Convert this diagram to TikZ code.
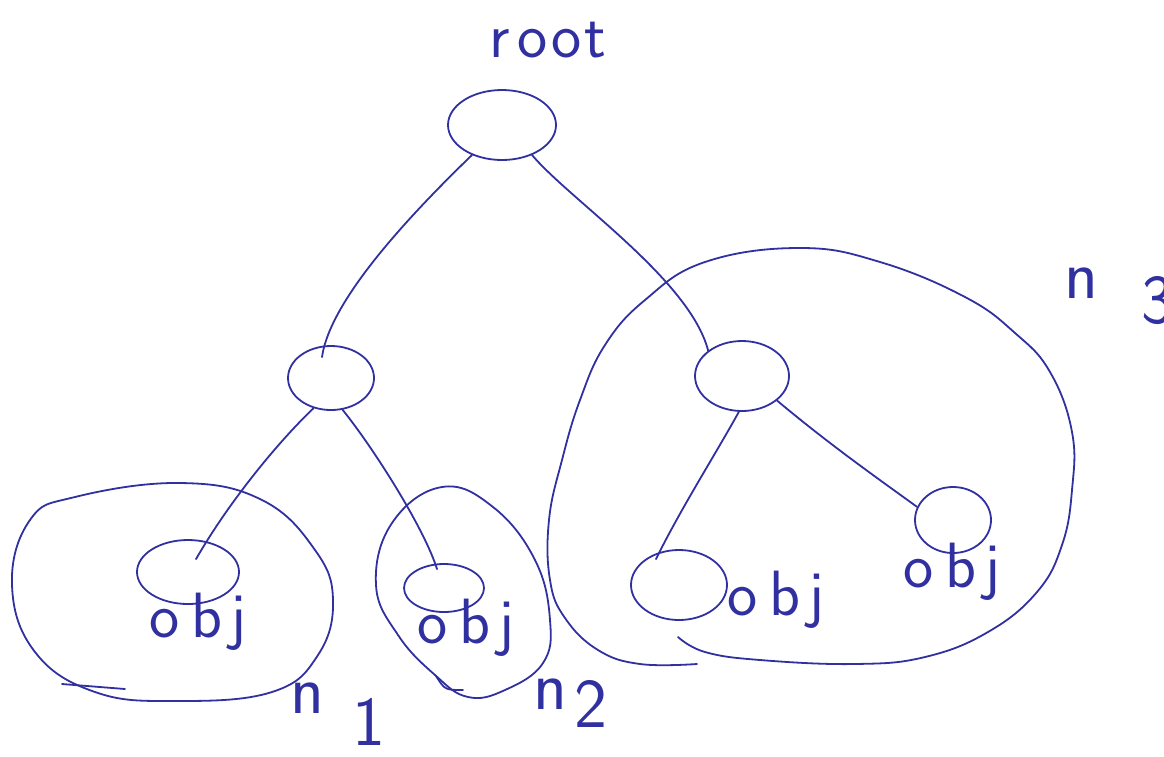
\documentclass[tikz,border=0pt]{standalone}
\usetikzlibrary{shapes.geometric,calc}
\definecolor{ink}{RGB}{48,48,160}
\tikzset{
  pen/.style={draw=ink,line width=1.8pt,line cap=round,line join=round},
  tnode/.style={ellipse,pen,inner sep=0pt},
  hand/.style={text=ink,font=\sffamily\fontsize{64}{64}\selectfont,inner sep=0pt},
  bighand/.style={text=ink,font=\sffamily\fontsize{70}{70}\selectfont,inner sep=0pt},
}
\newcommand{\objtxt}{o\hspace{0.18em}b\hspace{0.12em}j}
\begin{document}
\begin{tikzpicture}[x=1pt,y=-1pt]
\useasboundingbox (0,0) rectangle (1164,756);
\clip (0,0) rectangle (1164,756);
% tree nodes
\node[tnode,minimum width=108pt,minimum height=70pt] (root) at (502,125) {};
\node[tnode,minimum width=86pt,minimum height=64pt] (L) at (331,378) {};
\node[tnode,minimum width=94pt,minimum height=70pt] (R) at (742,376) {};
\node[tnode,minimum width=102pt,minimum height=64pt] (leaf1) at (188,572) {};
\node[tnode,minimum width=80pt,minimum height=48pt] (leaf2) at (444,588) {};
\node[tnode,minimum width=96pt,minimum height=70pt] (leaf3) at (679,585) {};
\node[tnode,minimum width=76pt,minimum height=66pt] (leaf4) at (953,520) {};
% edge end points just inside the child nodes
\coordinate (Lt) at ($(L.north)+(-9,12)$);
\coordinate (Rt) at ($(R.north west)+(0,0)$);
\coordinate (l1t) at ($(leaf1.north)+(8,20)$);
\coordinate (l2t) at ($(leaf2.north)+(-7,6)$);
\coordinate (l3t) at ($(leaf3.north)+(-23,10)$);
% edges
\draw[pen] (root.225) .. controls (410,215) and (330,300) .. (Lt);
\draw[pen] (root.-45) .. controls (570,200) and (690,280) .. (Rt);
\draw[pen] (L.-120) .. controls (280,440) and (230,500) .. (l1t);
\draw[pen] (L.-70) .. controls (375,450) and (425,530) .. (l2t);
\draw[pen] (R.-95) .. controls (715,455) and (680,510) .. (l3t);
\draw[pen] (R.-35) .. controls (830,445) and (880,480) .. (leaf4.160);
% blobs
\draw[pen] plot[smooth cycle,tension=0.7] coordinates {(12,585) (30,520) (75,497) (180,483) (262,500) (315,550) (333,600) (318,655) (272,692) (175,701) (95,692) (35,652)};
\draw[pen] (62,684) -- (125,689);
\draw[pen] plot[smooth cycle,tension=0.7] coordinates {(376,585) (392,523) (442,487) (493,507) (535,560) (550,620) (543,663) (505,690) (468,697) (435,675) (398,635)};
\draw[pen] (436,676) .. controls (445,690) .. (463,690);
\draw[pen] plot[smooth,tension=0.7] coordinates {(697,664) (640,664) (598,650) (565,618) (550,580) (549,520) (562,460) (580,400) (605,345) (645,300) (705,262) (800,248) (880,262) (965,297) (1015,333) (1050,372) (1072,432) (1072,490) (1062,545) (1037,592) (988,632) (925,657) (855,664) (760,660) (705,652) (678,637)};
% labels
\node[hand] (troot) at (548,40) {r\hspace{0.12em}o\hspace{0.05em}o\hspace{0.05em}t};
\node[hand] (o1) at (198,622) {\objtxt};
\node[hand] (o2) at (466,628) {\objtxt};
\node[hand] (o3) at (776,600) {\objtxt};
\node[hand] (o4) at (952,572) {\objtxt};
\node[bighand,anchor=west] (n1) at (290,714) {n\hspace{0.4em}\raisebox{-0.45em}{1}};
\node[bighand,anchor=west] (n2) at (533,703) {n\hspace{0.1em}\raisebox{-0.25em}{2}};
\node[bighand,anchor=west] (n3) at (1064,296) {n\hspace{0.62em}\raisebox{-0.35em}{3}};
\end{tikzpicture}
\end{document}
